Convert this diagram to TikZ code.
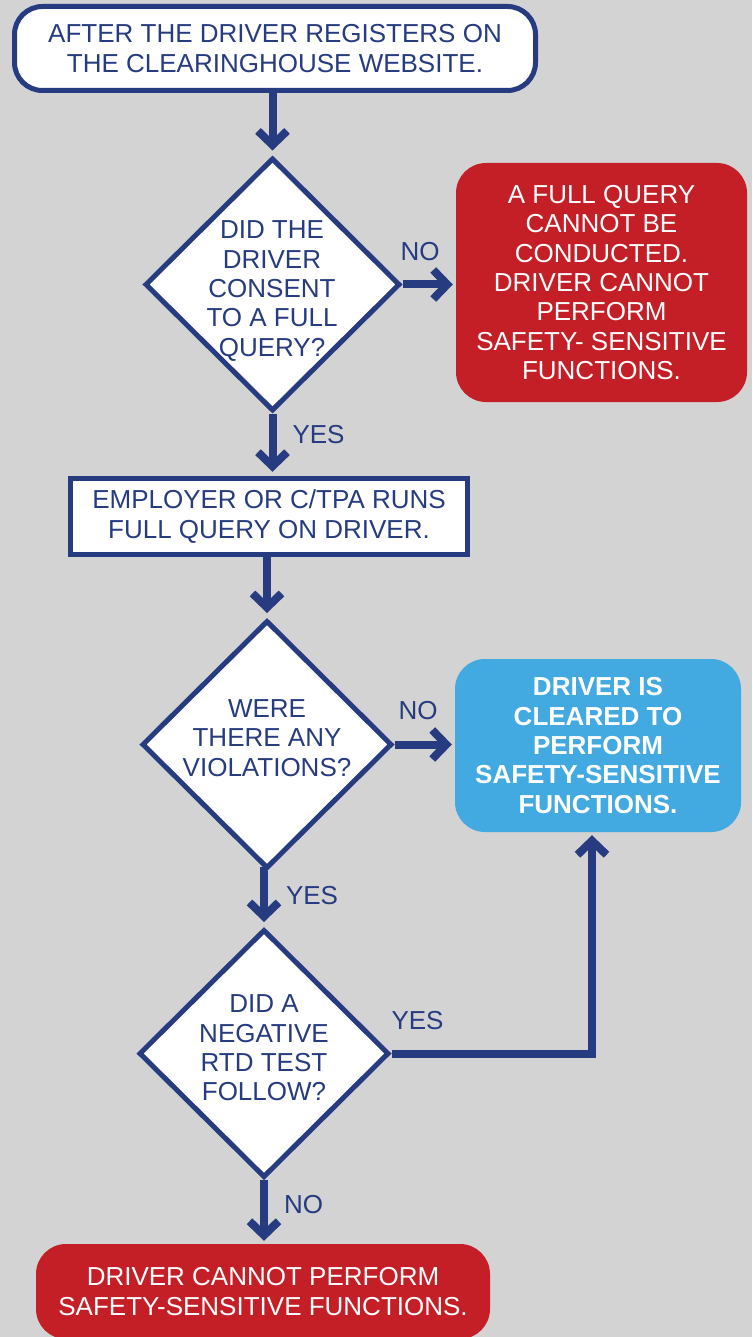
\documentclass[tikz,border=0pt]{standalone}
\usepackage{fontspec}
\setmainfont{Liberation Sans}
\usepackage{tikz}
\usetikzlibrary{arrows.meta}
\usetikzlibrary{shapes.geometric}
\usetikzlibrary{positioning}
\definecolor{navy}{HTML}{263B80}
\definecolor{stopred}{HTML}{C41F27}
\definecolor{goblue}{HTML}{42AAE0}
\definecolor{backgray}{HTML}{D3D3D3}
\tikzset{txt/.style = {font = \fontsize{26}{29.3}\selectfont, align = center, inner sep = 0}}
\tikzset{flow/.style = {draw = navy, line width = 8, -{Straight Barb[length = 14pt, width = 29pt, sharp]}}}
\tikzset{lbl/.style = {txt, text = navy}}
\tikzset{whitebox/.style = {txt, draw = navy, line width = 5, fill = white, text = navy}}
\tikzset{decision/.style = {diamond, draw = navy, line width = 5, fill = white, inner sep = 0,
                            minimum width = 250, minimum height = 248}}
\tikzset{endbox/.style = {txt, rounded corners = 30, text = white}}

\begin{document}
\begin{tikzpicture}[x = 1pt, y = -1pt]
      \fill [backgray] (0, 0) rectangle (752, 1337);
      \useasboundingbox (0, 0) rectangle (752, 1337);
      \node [whitebox, rounded corners = 28, minimum width = 521, minimum height = 84] (start) at (275, 48.5)
            {AFTER THE DRIVER REGISTERS ON\\THE CLEARINGHOUSE WEBSITE.};
      \node [decision, minimum width = 255, minimum height = 253] (q1) at (272.5, 284.5) {};
      \node [txt, text = navy] (q1txt) at (272, 291) {DID THE\\DRIVER\\CONSENT\\TO A FULL\\QUERY?};
      \node [endbox, fill = stopred, minimum width = 291, minimum height = 239] (nofull) at (601.5, 282.5)
            {A FULL QUERY\\CANNOT BE\\CONDUCTED.\\DRIVER CANNOT\\PERFORM\\SAFETY- SENSITIVE\\FUNCTIONS.};
      \node [whitebox, minimum width = 397, minimum height = 76.5] (runquery) at (269, 516.5)
            {EMPLOYER OR C/TPA RUNS\\FULL QUERY ON DRIVER.};
      \node [decision] (q2) at (267, 744.5) {};
      \node [txt, text = navy] (q2txt) at (267, 738) {WERE\\THERE ANY\\VIOLATIONS?};
      \node [endbox, fill = goblue, font = \fontsize{26}{29.3}\selectfont\bfseries,
             minimum width = 286, minimum height = 173] (cleared) at (598, 745.5)
            {DRIVER IS\\CLEARED TO\\PERFORM\\SAFETY-SENSITIVE\\FUNCTIONS.};
      \node [decision] (q3) at (264, 1053.5) {};
      \node [txt, text = navy] (q3txt) at (264, 1048) {DID A\\NEGATIVE\\RTD TEST\\FOLLOW?};
      \node [endbox, fill = stopred, minimum width = 454, minimum height = 95] (nodrive) at (263, 1291.5)
            {DRIVER CANNOT PERFORM\\SAFETY-SENSITIVE FUNCTIONS.};
      % connectors
      \draw [flow, shorten >= 5] (q1.north |- start.south) -- (q1.north);
      \draw [flow, shorten >= 3] (q1.east) -- (q1.east -| nofull.west)
            node [lbl, pos = 0, anchor = base west, xshift = -6, yshift = 24] (no1) {NO};
      \draw [flow, shorten >= 4] (q1.south) -- (q1.south |- runquery.north)
            node [lbl, pos = 0, anchor = base west, xshift = 16, yshift = -30] (yes1) {YES};
      \draw [flow, shorten >= 5] (q2.north |- runquery.south) -- (q2.north);
      \draw [flow, shorten >= 3] (q2.east) -- (q2.east -| cleared.west)
            node [lbl, pos = 0, anchor = base west, xshift = 0, yshift = 25] (no2) {NO};
      \draw [flow, shorten >= 5] (q2.south) -- (q2.south -| q3.north) -- (q3.north)
            node [lbl, pos = 0, anchor = base west, xshift = 18, yshift = -33] (yes2) {YES};
      \draw [flow, shorten >= 3] (q3.east) -| ([xshift = -6]cleared.south)
            node [lbl, pos = 0, anchor = base west, xshift = -4, yshift = 24] (yes3) {YES};
      \draw [flow, shorten >= 3] (q3.south) -- (q3.south |- nodrive.north)
            node [lbl, pos = 0, anchor = base west, xshift = 16, yshift = -33] (no3) {NO};
    \end{tikzpicture}
\end{document}
